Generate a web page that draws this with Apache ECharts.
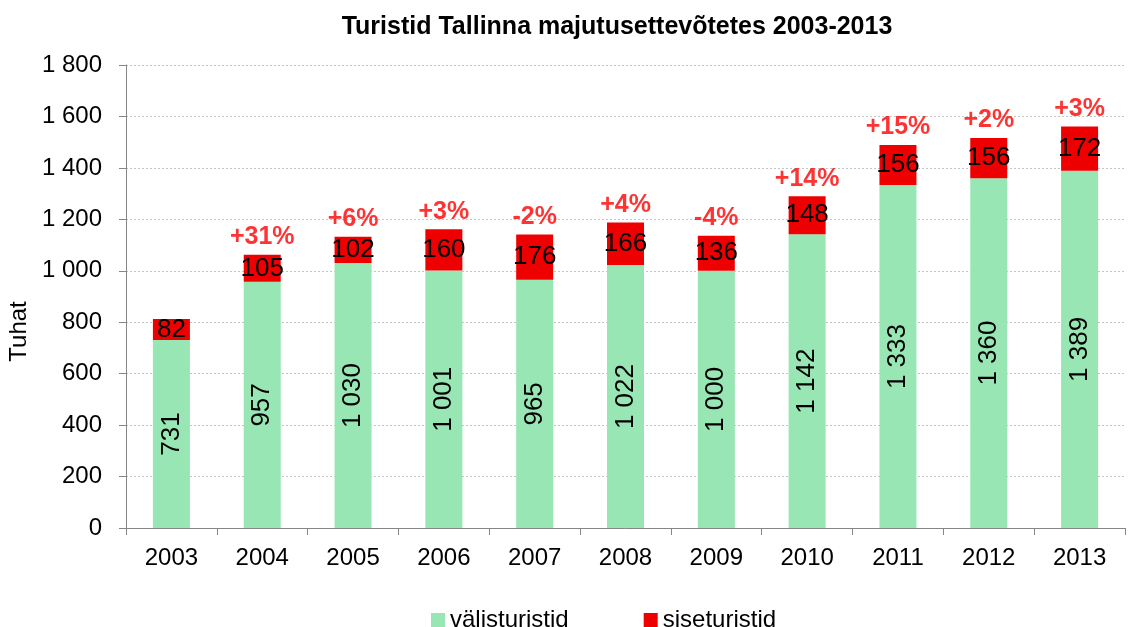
<!DOCTYPE html>
<html>
<head>
<meta charset="utf-8">
<script src="https://cdn.jsdelivr.net/npm/echarts@6/dist/echarts.min.js"></script>
<style>
  html, body { margin: 0; padding: 0; background: #fff; }
  #chart { width: 1130px; height: 627px; }
</style>
</head>
<body>
<div id="chart"></div>
<script>
// values in thousands
const years = ['2003', '2004', '2005', '2006', '2007', '2008', '2009', '2010', '2011', '2012', '2013']
const foreign = [731, 957, 1030, 1001, 965, 1022, 1000, 1142, 1333, 1360, 1389]
const domestic = [82, 105, 102, 160, 176, 166, 136, 148, 156, 156, 172]
const growth = ['', '+31%', '+6%', '+3%', '-2%', '+4%', '-4%', '+14%', '+15%', '+2%', '+3%']

const font = 'Liberation Sans, Arial, sans-serif'

function fmt (v) {
  return String(v).replace(/\B(?=(\d{3})+(?!\d))/g, ' ')
}

const totals = foreign.map((v, i) => v + domestic[i])

const chart = echarts.init(document.getElementById('chart'))
chart.setOption({
  animation: false,
  title: {
    text: 'Turistid Tallinna majutusettevõtetes 2003-2013',
    left: 612,
    textAlign: 'center',
    top: 10,
    textStyle: { fontFamily: font, fontSize: 25, fontWeight: 'bold', color: '#000' }
  },
  legend: {
    data: ['välisturistid', 'siseturistid'],
    top: 603,
    left: 426,
    itemGap: 75,
    itemWidth: 14,
    itemHeight: 14,
    icon: 'rect',
    textStyle: { fontFamily: font, fontSize: 24, color: '#000' }
  },
  grid: { left: 126, right: 5, top: 65, bottom: 99, containLabel: false, outerBoundsMode: 'none' },
  xAxis: {
    type: 'category',
    data: years,
    axisLine: { lineStyle: { color: '#868686' } },
    axisTick: { show: true, alignWithLabel: false, length: 7, lineStyle: { color: '#868686' } },
    axisLabel: { fontFamily: font, fontSize: 24, color: '#000', margin: 18 }
  },
  yAxis: {
    type: 'value',
    min: 0,
    max: 1800,
    interval: 200,
    name: 'Tuhat',
    nameLocation: 'middle',
    nameGap: 89,
    nameTextStyle: { fontFamily: font, fontSize: 24, color: '#000', padding: [0, 70, 0, 0] },
    axisLine: { show: true, lineStyle: { color: '#868686' } },
    axisTick: { show: true, length: 7, lineStyle: { color: '#868686' } },
    axisLabel: { fontFamily: font, fontSize: 24, color: '#000', margin: 24, formatter: fmt },
    splitLine: { lineStyle: { color: '#c4c4c4', type: [2, 2] } }
  },
  series: [
    {
      name: 'välisturistid',
      type: 'bar',
      stack: 'total',
      barWidth: 37,
      data: foreign,
      itemStyle: { color: '#98E6B3' },
      label: {
        show: true,
        position: 'inside',
        rotate: 90,
        formatter: (p) => fmt(p.value),
        fontFamily: font,
        fontSize: 26,
        color: '#000'
      }
    },
    {
      name: 'siseturistid',
      type: 'bar',
      stack: 'total',
      data: domestic,
      itemStyle: { color: '#EE0000' },
      label: {
        show: true,
        position: 'inside',
        formatter: (p) => fmt(p.value),
        fontFamily: font,
        fontSize: 26,
        color: '#000'
      }
    },
    {
      name: 'growth',
      type: 'scatter',
      symbolSize: 0,
      data: totals,
      silent: true,
      label: {
        show: true,
        position: 'top',
        distance: 5,
        formatter: (p) => growth[p.dataIndex],
        fontFamily: font,
        fontSize: 25,
        fontWeight: 'bold',
        color: '#FF0000'
      }
    }
  ]
})
</script>
</body>
</html>
